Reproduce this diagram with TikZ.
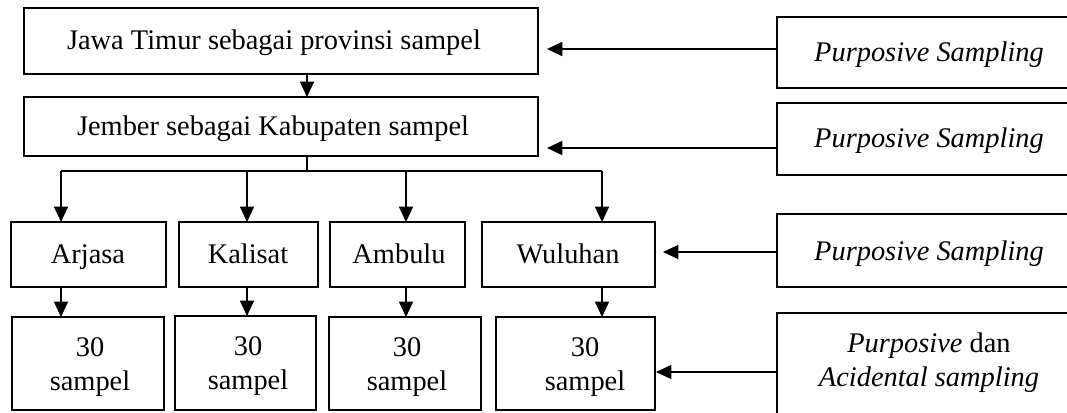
\documentclass[tikz,border=0pt]{standalone}
\usepackage{fontspec}
\setmainfont{Liberation Serif}
\usetikzlibrary{arrows.meta,fit,calc}
\begin{document}
\begin{tikzpicture}[x=0.75pt,y=-0.75pt,
  box/.style={draw, line width=1.5pt, inner sep=0pt, outer sep=0pt},
  txt/.style={anchor=base, inner sep=0pt, font=\fontsize{21.3}{25.5}\selectfont, align=center},
  conn/.style={line width=0.9pt},
  bconn/.style={line width=1.4pt},
  arr/.style={-{Triangle[length=11.5pt,width=10.5pt]}}]
\useasboundingbox (0,0) rectangle (1067,412);
\clip (0,0) rectangle (1067,412);
% boxes
\node[box, fit={(24,8) (538,74)}] (b1) {};
\node[box, fit={(24,97) (538,156)}] (b2) {};
\node[box, fit={(11,222) (166,287)}] (a3) {};
\node[box, fit={(179,222) (318,287)}] (k3) {};
\node[box, fit={(330,222) (465,287)}] (m3) {};
\node[box, fit={(482,222) (655,287)}] (w3) {};
\node[box, fit={(12,317) (164,410)}] (a4) {};
\node[box, fit={(175,316) (316,410)}] (k4) {};
\node[box, fit={(329,317) (481,410)}] (m4) {};
\node[box, fit={(496,317) (655,410)}] (w4) {};
\node[box, fit={(777,17) (1080,88)}] (r1) {};
\node[box, fit={(777,103) (1080,175)}] (r2) {};
\node[box, fit={(777,214) (1080,287)}] (r3) {};
\node[box, fit={(777,313) (1080,425)}] (r4) {};
% texts
\node[txt] (t1) at (274,49) {Jawa Timur sebagai provinsi sampel};
\node[txt] (t2) at (273,135) {Jember sebagai Kabupaten sampel};
\node[txt] (ta3) at (88,263) {Arjasa};
\node[txt] (tk3) at (248,263) {Kalisat};
\node[txt] (tm3) at (399,263) {Ambulu};
\node[txt] (tw3) at (568,263) {Wuluhan};
\node[txt] (ta4) at (90,390) {30\\sampel};
\node[txt] (tk4) at (248,389) {30\\sampel};
\node[txt] (tm4) at (407,390) {30\\sampel};
\node[txt] (tw4) at (585,390) {30\\sampel};
\node[txt] (tr1) at (929,61) {\textit{Purposive Sampling}};
\node[txt] (tr2) at (929,147) {\textit{Purposive Sampling}};
\node[txt] (tr3) at (929,260) {\textit{Purposive Sampling}};
\node[txt] (tr4) at (929,386) {\textit{Purposive} dan\\\textit{Acidental sampling}};
% helper coordinates
\coordinate (j) at (307,171);
\coordinate (xa) at (61,0);
\coordinate (xk) at (247,0);
\coordinate (xm) at (406,0);
\coordinate (xw) at (602,0);
\coordinate (e1) at (547,49);
\coordinate (e2) at (547,148);
\coordinate (e3) at (663,252);
\coordinate (e4) at (656,372);
% vertical flow
\draw[conn, arr] (b1.south -| j) -- (b2.north -| j);
\draw[conn] (b2.south -| j) -- (j);
\draw[conn] (xa |- j) -- (xw |- j);
\foreach \c/\n in {xa/a3, xk/k3, xm/m3, xw/w3} {
  \draw[conn, arr] (\c |- j) -- (\c |- \n.north);
}
\draw[conn, arr] (xa |- a3.south) -- (xa |- a4.north);
\draw[conn, arr] (xk |- k3.south) -- (xk |- k4.north);
\draw[conn, arr] (xm |- m3.south) -- (xm |- m4.north);
\draw[conn, arr] (xw |- w3.south) -- (xw |- w4.north);
% method arrows
\draw[bconn, arr] (r1.west |- e1) -- (e1);
\draw[bconn, arr] (r2.west |- e2) -- (e2);
\draw[conn, arr] (r3.west |- e3) -- (e3);
\draw[conn, arr] (r4.west |- e4) -- (e4);
\end{tikzpicture}
\end{document}
